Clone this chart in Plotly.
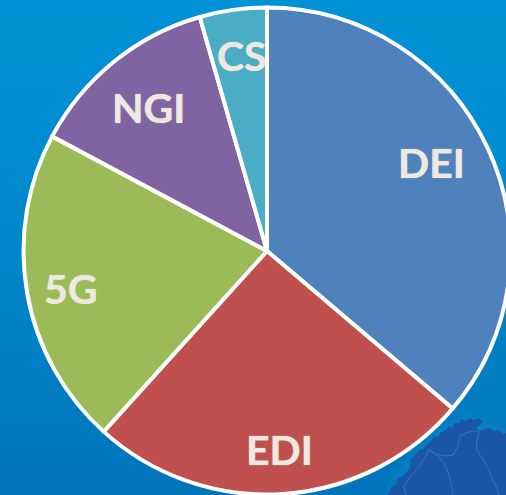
import base64
import plotly.graph_objects as go

labels = ["DEI", "EDI", "5G", "NGI", "CS"]
values = [36.2, 25.5, 21.1, 12.75, 4.45]
colors = ["#4f81bd", "#c0504d", "#9bbb59", "#8064a2", "#4bacc6"]
label_x = [431, 279, 71, 149, 242]
label_y = [162, 449, 288, 108, 55]

W, H = 534, 495
map_outline = ("388,495 391,488 396,484 398,478 403,476 407,472 410,466 411,459 415,455 419,450 "
               "424,449 426,445 431,441 434,436 438,437 441,432 446,430 449,426 452,428 455,423 "
               "459,423 461,419 466,421 469,418 474,420 478,418 483,422 480,425 476,428 478,431 "
               "484,429 490,428 494,431 499,430 503,434 506,433 506,495")
borders = ("M429,449 L433,453 L440,455 L446,456 L453,455 L458,446 L460,436 L466,433 L473,431 L479,432 "
           "L477,441 L476,449 L482,458 L488,468 L492,478 L497,488 L499,495 "
           "M429,449 L438,456 L444,463 L448,472 L451,482 L453,495 "
           "M406,495 L404,486 L410,477 L418,468 L426,456 L429,449")
svg = f'''<svg xmlns="http://www.w3.org/2000/svg" width="{W}" height="{H}" viewBox="0 0 {W} {H}">
<defs>
<linearGradient id="g" x1="0" y1="0" x2="0" y2="1">
<stop offset="0" stop-color="#0092d6"/><stop offset="0.45" stop-color="#0089cd"/><stop offset="1" stop-color="#0074ba"/>
</linearGradient>
<filter id="b" x="-30%" y="-30%" width="160%" height="160%"><feGaussianBlur stdDeviation="7"/></filter>
</defs>
<rect width="{W}" height="{H}" fill="url(#g)"/>
<polygon points="{map_outline}" fill="#1f98d6" opacity="0.5" filter="url(#b)"/>
<polygon points="{map_outline}" fill="#1b56a6"/>
<path d="{borders}" fill="none" stroke="#2a79bf" stroke-width="1"/>
</svg>'''
bg = "data:image/svg+xml;base64," + base64.b64encode(svg.encode()).decode()

fig = go.Figure(go.Pie(
    labels=labels, values=values, sort=False, direction="clockwise", rotation=0,
    marker=dict(colors=colors, line=dict(color="#ffffff", width=4)),
    textinfo="none", hoverinfo="label+percent", showlegend=False,
    domain=dict(x=[0, 1], y=[1 - 494.5 / H, 1 - 7.5 / H]),
))
fig.update_layout(
    width=W, height=H, margin=dict(l=0, r=0, t=0, b=0),
    paper_bgcolor="rgba(0,0,0,0)",
    images=[dict(source=bg, xref="paper", yref="paper", x=0, y=1, sizex=1, sizey=1,
                 sizing="stretch", layer="below", xanchor="left", yanchor="top")],
    annotations=[dict(text=f"<b>{t}</b>", x=x / W, y=1 - y / H, xref="paper", yref="paper",
                      showarrow=False, xanchor="center", yanchor="middle",
                      font=dict(family="Lato", size=41, color="#eee9e0",
                                shadow="0 0 1px #eee9e0"))
                 for t, x, y in zip(labels, label_x, label_y)],
)
fig.write_html("out.html", config=dict(displayModeBar=False),
               post_script="document.documentElement.style.overflow='hidden';document.body.style.margin='0';document.body.style.overflow='hidden';")
